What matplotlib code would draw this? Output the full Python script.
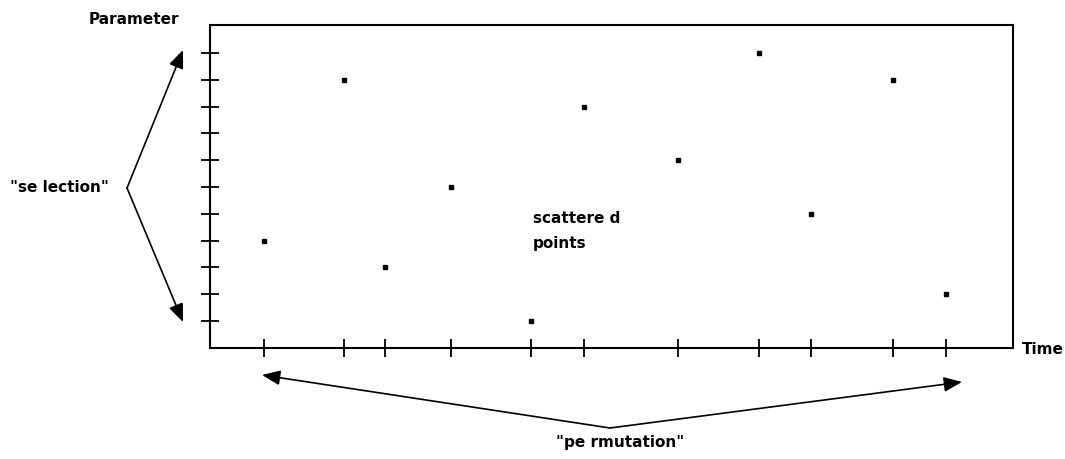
import matplotlib.pyplot as plt

# times (arbitrary units) and parameter levels
temps = [5.4, 13.4, 17.5, 24.1, 32.1, 37.4, 46.8, 54.9, 60.1, 68.3, 73.6]
niveaux = [4, 10, 3, 6, 1, 9, 7, 11, 5, 10, 2]
graduations_y = list(range(1, 12))

plt.rcParams['font.family'] = ['DejaVu Sans']
fig = plt.figure(figsize=(10.65, 4.59), dpi=100)
ax = fig.add_axes([0.197, 0.242, 0.754, 0.704])

ax.plot(temps, niveaux, 's', color='black', markersize=3.3, linestyle='none')
ax.set_xlim(0, 80.3)
ax.set_ylim(0, 12.05)
ax.set_xticks(temps)
ax.set_yticks(graduations_y)
ax.set_xticklabels([])
ax.set_yticklabels([])
ax.tick_params(direction='inout', length=13, width=1.3, color='black')
for sp in ax.spines.values():
    sp.set_linewidth(1.5)
    sp.set_color('black')

fs = 11
H = 459
fig.text(89, H - 20, "Parameter", fontsize=fs, fontweight='bold', va='center', ha='left',
         transform=None)
fig.text(1022, H - 349, "Time", fontsize=fs, fontweight='bold', va='center', ha='left',
         transform=None)
fig.text(10, H - 187, '"se lection"', fontsize=fs, fontweight='bold', va='center', ha='left',
         transform=None)
fig.text(533, H - 231, "scattere d\npoints", fontsize=fs, fontweight='bold', va='center',
         ha='left', linespacing=1.8, transform=None)
fig.text(620, H - 442, '"pe rmutation"', fontsize=fs, fontweight='bold', va='center',
         ha='center', transform=None)

style = dict(arrowstyle='-|>,head_length=1.1,head_width=0.45', color='black', lw=1.2,
             shrinkA=0, shrinkB=0)
for tip in [(183, H - 50), (183, H - 322)]:
    ax.annotate('', xy=tip, xycoords='figure pixels', xytext=(127, H - 188),
                textcoords='figure pixels', arrowprops=style, annotation_clip=False)
for tip in [(262, H - 375), (962, H - 382)]:
    ax.annotate('', xy=tip, xycoords='figure pixels', xytext=(610, H - 428),
                textcoords='figure pixels', arrowprops=style, annotation_clip=False)

plt.savefig("out.png", dpi=100)
